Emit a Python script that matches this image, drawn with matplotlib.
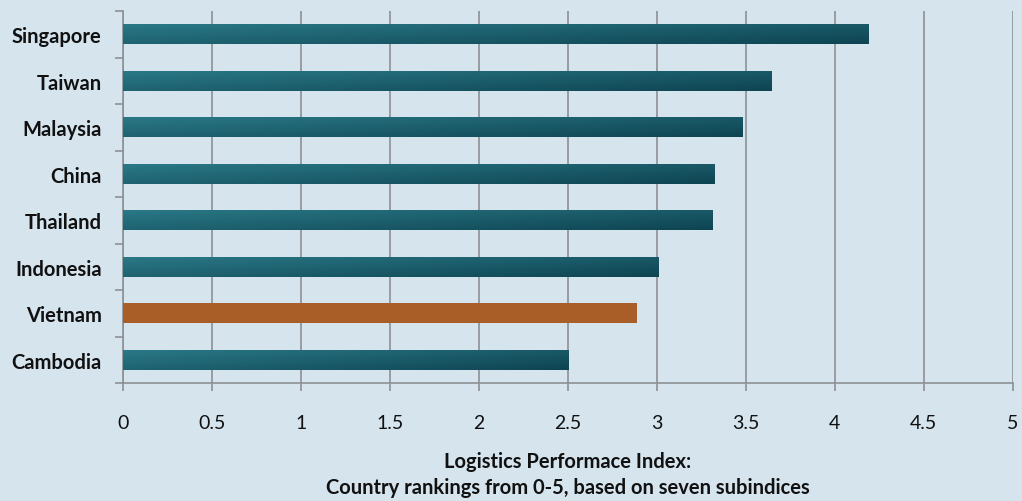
import numpy as np
import matplotlib.pyplot as plt
from matplotlib.colors import LinearSegmentedColormap

countries = ["Singapore", "Taiwan", "Malaysia", "China", "Thailand",
             "Indonesia", "Vietnam", "Cambodia"]
lpi_scores = [4.19, 3.64, 3.48, 3.32, 3.31, 3.01, 2.89, 2.50]
highlight = "Vietnam"
x_ticks = [0, 0.5, 1, 1.5, 2, 2.5, 3, 3.5, 4, 4.5, 5]
x_tick_labels = ["0", "0.5", "1", "1.5", "2", "2.5", "3", "3.5", "4", "4.5", "5"]

bg = "#d5e4ed"
teal = "#1d6675"
rust = "#a95e28"
grid_col = "#8e9093"
text_col = "#111111"

plt.rcParams['font.family'] = ['Lato', 'DejaVu Sans']

fig = plt.figure(figsize=(10.22, 5.02), dpi=100, facecolor=bg)
ax = fig.add_axes([0.120, 0.235, 0.871, 0.741], facecolor=bg)

ypos = np.arange(len(countries))
colors = [rust if c == highlight else teal for c in countries]
bars = ax.barh(ypos, lpi_scores, height=0.43, color=colors, zorder=3)

ax.set_xlim(0, 5)
ax.set_ylim(len(countries) - 0.5, -0.5)

# teal bars get a left-to-right / top-to-bottom shading
shade = LinearSegmentedColormap.from_list("shade", ["#2a7886", "#0e4452"])
gx = np.linspace(0, 1, 256)
gy = np.linspace(0, 1, 32)[:, None]
grad = 0.6 * gx[None, :] + 0.4 * gy
for bar, c in zip(bars, countries):
    if c == highlight:
        continue
    x0, y0 = bar.get_x(), bar.get_y()
    w, h = bar.get_width(), bar.get_height()
    im = ax.imshow(grad, cmap=shade, aspect="auto", zorder=4,
                   extent=(x0, x0 + w, y0 + h, y0), interpolation="bilinear")
    im.set_clip_path(bar)

ax.set_xticks(x_ticks)
ax.set_xticklabels(x_tick_labels, fontsize=14, color=text_col)
ax.xaxis.grid(True, color=grid_col, linewidth=1.2, zorder=1)
ax.tick_params(axis="x", length=6, width=1.2, color=grid_col, pad=16)

ax.set_yticks(ypos)
ax.set_yticklabels(countries, fontsize=14.5, fontweight="bold", color=text_col)
ax.tick_params(axis="y", length=0, pad=15)
ax.set_yticks(np.arange(-0.5, len(countries), 1), minor=True)
ax.tick_params(axis="y", which="minor", length=6, width=1.2, color=grid_col)

for side in ["top", "right"]:
    ax.spines[side].set_visible(False)
for side in ["left", "bottom"]:
    ax.spines[side].set_color(grid_col)
    ax.spines[side].set_linewidth(1.2)

ax.set_xlabel("Logistics Performace Index:\nCountry rankings from 0-5, based on seven subindices",
              fontsize=14.5, fontweight="bold", color=text_col, labelpad=15,
              linespacing=1.35)

fig.savefig("out.png", dpi=100, facecolor=bg)
